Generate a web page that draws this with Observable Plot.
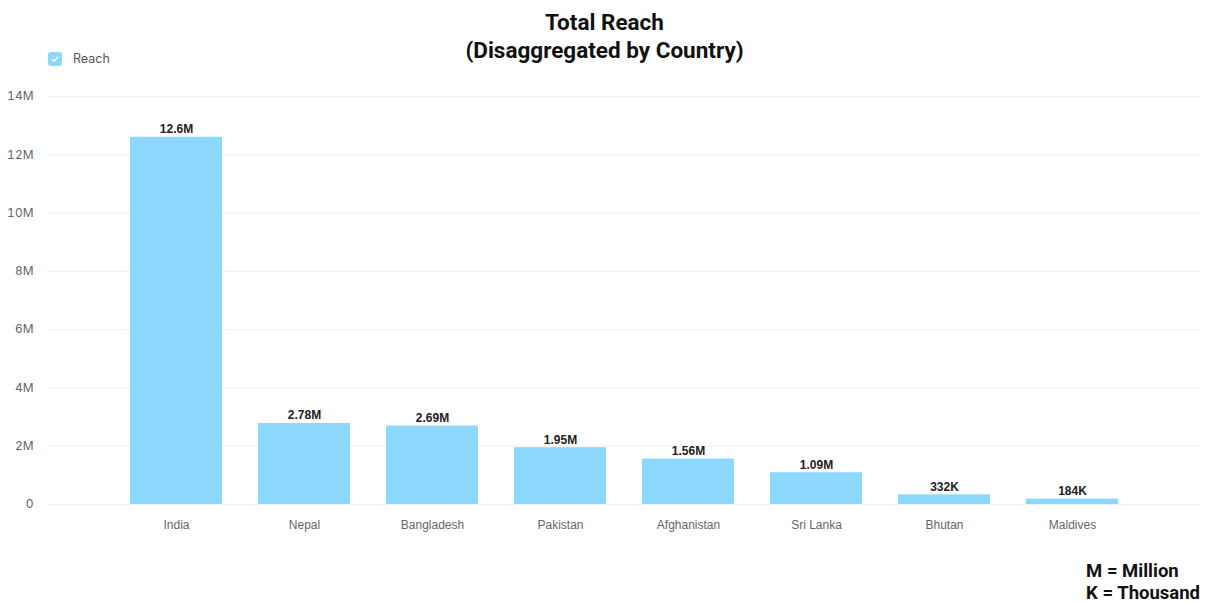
<!DOCTYPE html>
<html>
<head>
<meta charset="utf-8">
<script src="https://cdn.jsdelivr.net/npm/d3@7"></script>
<script src="https://cdn.jsdelivr.net/npm/@observablehq/plot@0.6"></script>
<style>
  html, body { margin: 0; padding: 0; background: #fff; }
  #wrap { position: relative; width: 1209px; height: 603px; overflow: hidden; }
  #title { position: absolute; left: 0; width: 1209px; top: 8px; text-align: center;
    font-family: Roboto, "Noto Sans", sans-serif; font-weight: 700; font-size: 22.5px; line-height: 28px; color: #111; }
  #legend { position: absolute; left: 48px; top: 51px; display: flex; align-items: center;
    font-family: Inter, "Noto Sans", sans-serif; font-size: 12.5px; color: #555; }
  #legend .sw { width: 14px; height: 14px; border-radius: 3px; background: #8dd8ff; margin-right: 11px;
    display: flex; align-items: center; justify-content: center; }
  #caption { position: absolute; right: 9px; top: 560px; text-align: left;
    font-family: Roboto, "Noto Sans", sans-serif; font-weight: 700; font-size: 18.5px; line-height: 22px; color: #111; }
  #chart { position: absolute; left: 0; top: 0; }
</style>
</head>
<body>
<div id="wrap">
  <div id="chart"></div>
  <div id="title">Total Reach<br>(Disaggregated by Country)</div>
  <div id="legend"><span class="sw"><svg width="10" height="10" viewBox="0 0 10 10"><path d="M2 5.2 L4.2 7.3 L8 3" fill="none" stroke="#fff" stroke-width="1.4"/></svg></span>Reach</div>
  <div id="caption">M = Million<br>K = Thousand</div>
</div>
<script>
const countries = ["India", "Nepal", "Bangladesh", "Pakistan", "Afghanistan", "Sri Lanka", "Bhutan", "Maldives"];
const reach = [12600000, 2780000, 2690000, 1950000, 1560000, 1090000, 332000, 184000];
const yTicks = [0, 2e6, 4e6, 6e6, 8e6, 10e6, 12e6, 14e6];
const yTickLabels = ["0", "2M", "4M", "6M", "8M", "10M", "12M", "14M"];

const data = countries.map((c, i) => ({country: c, reach: reach[i]}));
const fmt = v => d3.format(".3s")(v).replace("k", "K");

const chart = Plot.plot({
  width: 1209,
  height: 603,
  marginTop: 96,
  marginBottom: 99,
  marginLeft: 48,
  marginRight: 9,
  style: {fontFamily: "'Liberation Sans', Arial, sans-serif", background: "transparent"},
  x: {domain: countries, padding: 0.28, paddingOuter: 0.64, label: null},
  y: {domain: [0, 14e6], label: null},
  marks: [
    Plot.ruleY(yTicks, {stroke: "#eeeeee", strokeWidth: 1}),
    Plot.barY(data, {x: "country", y: "reach", fill: "#8dd8ff"}),
    Plot.text(data, {x: "country", y: "reach", text: d => fmt(d.reach), dy: -8,
      fontWeight: "bold", fontSize: 12, fill: "#222"}),
    Plot.axisY({ticks: yTicks, tickFormat: (d, i) => yTickLabels[i], tickSize: 0, tickPadding: 15,
      fontSize: 12, fill: "#666", fontFamily: "Inter, 'Noto Sans', sans-serif", label: null}),
    Plot.axisX({tickSize: 0, tickPadding: 16, fontSize: 12, fill: "#666", label: null})
  ]
});
document.getElementById("chart").appendChild(chart);
</script>
</body>
</html>
